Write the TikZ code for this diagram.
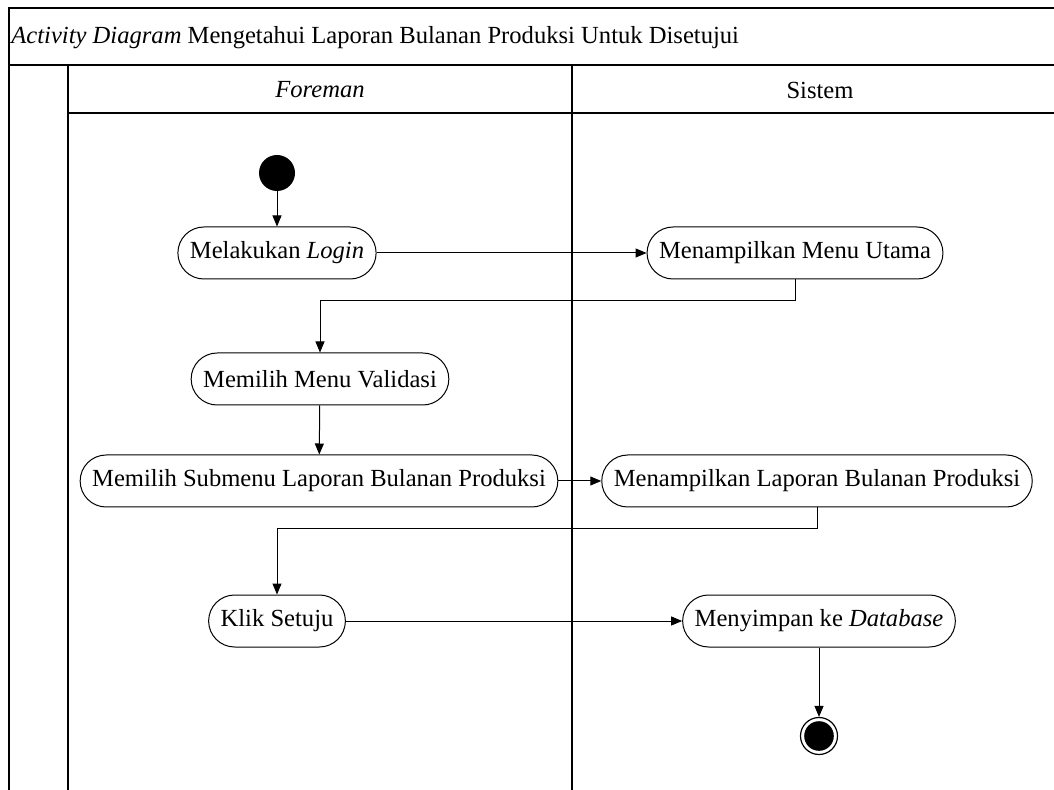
\documentclass[tikz,border=0pt]{standalone}
\usepackage{fontspec}
\setmainfont{Liberation Serif}
\usepackage{tikz}
\usetikzlibrary{arrows.meta}
\tikzset{
  every node/.append style={font=\fontsize{12.3}{14}\selectfont},
  lane/.style={line width=0.7pt,black},
  aksi/.style={draw,line width=0.5pt,rectangle,rounded corners=13pt,
    minimum height=26pt,inner xsep=6pt,fill=white},
  awal/.style={circle,fill=black,minimum size=18pt,inner sep=0pt},
  akhir/.style={circle,draw,line width=0.6pt,minimum size=18.5pt,inner sep=0pt,
    path picture={\fill[black] (path picture bounding box.center) circle (7.4pt);}},
  alur/.style={->,line width=0.5pt}
}
\begin{document}
\begin{tikzpicture}[>={Triangle[length=5.5pt,width=4.5pt]},x=0.5pt,y=-0.5pt]
  \useasboundingbox (0,0) rectangle (1054,790);
  % frame with title bar and two swimlanes
  \draw[lane] (9,790) -- (9,8) -- (1054,8);
  \draw[lane] (9,65) -- (1054,65);
  \draw[lane] (68,113) -- (1054,113);
  \draw[lane] (68,65) -- (68,790);
  \draw[lane] (572,65) -- (572,790);
  \node[anchor=west,inner sep=0pt] (judul) at (11,38)
    {\textit{Activity Diagram} Mengetahui Laporan Bulanan Produksi Untuk Disetujui};
  \node (foreman) at (320,90) {\textit{Foreman}};
  \node (sistem) at (820,90) {Sistem};

  % activities
  \node[awal] (mulai) at (277,173) {};
  \node[aksi] (login) at (277,253) {Melakukan \textit{Login}};
  \node[aksi] (utama) at (795,253) {Menampilkan Menu Utama};
  \node[aksi] (validasi) at (320,379) {Memilih Menu Validasi};
  \node[aksi] (submenu) at (319,481) {Memilih Submenu Laporan Bulanan Produksi};
  \node[aksi] (laporan) at (817,481) {Menampilkan Laporan Bulanan Produksi};
  \node[aksi] (setuju) at (277,621) {Klik Setuju};
  \node[aksi] (simpan) at (819,621) {Menyimpan ke \textit{Database}};
  \node[akhir] (selesai) at (819,736) {};

  % control flow
  \draw[alur] (mulai) -- (login);
  \draw[alur] (login.east) -- (utama.west);
  \draw[alur] (utama.south) -- ++(0,21) -| (validasi.north);
  \draw[alur] (validasi) -- (submenu);
  \draw[alur] (submenu.east) -- (laporan.west);
  \draw[alur] (laporan.south) -- ++(0,21) -| (setuju.north);
  \draw[alur] (setuju.east) -- (simpan.west);
  \draw[alur] (simpan.south) -- (selesai.north);
\end{tikzpicture}
\end{document}
